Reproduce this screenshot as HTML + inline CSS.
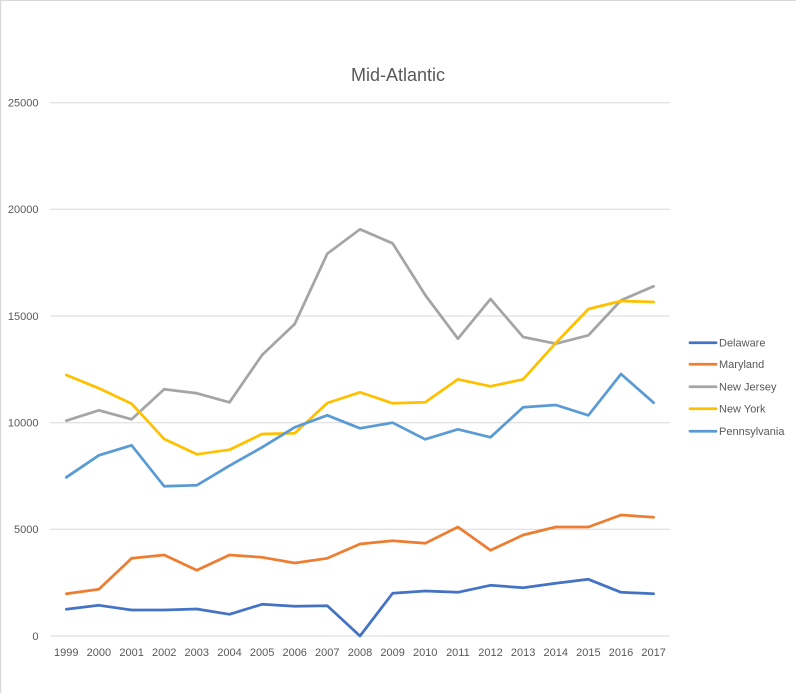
<!DOCTYPE html>
<html>
<head>
<meta charset="utf-8">
<style>
html,body{margin:0;padding:0;background:#fff;}
svg{display:block;}
text{font-family:"Liberation Sans",Arial,sans-serif;fill:#595959;}
</style>
</head>
<body>
<svg width="796" height="693" viewBox="0 0 796 693" xmlns="http://www.w3.org/2000/svg">
<rect x="0" y="0" width="796" height="693" fill="#fff"/>
<line x1="0" y1="0.5" x2="796" y2="0.5" stroke="#d9d9d9" stroke-width="1"/>
<line x1="0.5" y1="0" x2="0.5" y2="693" stroke="#d9d9d9" stroke-width="1.5"/>

<text x="398" y="81" font-size="18" text-anchor="middle">Mid-Atlantic</text>

<g stroke="#d9d9d9" stroke-width="1">
<line x1="50" y1="102.7" x2="670" y2="102.7"/>
<line x1="50" y1="209.3" x2="670" y2="209.3"/>
<line x1="50" y1="316" x2="670" y2="316"/>
<line x1="50" y1="422.7" x2="670" y2="422.7"/>
<line x1="50" y1="529.3" x2="670" y2="529.3"/>
<line x1="50" y1="636" x2="670" y2="636"/>
</g>

<g font-size="11" text-anchor="end">
<text x="38.5" y="106.5">25000</text>
<text x="38.5" y="213">20000</text>
<text x="38.5" y="320">15000</text>
<text x="38.5" y="426.5">10000</text>
<text x="38.5" y="533">5000</text>
<text x="38.5" y="640">0</text>
</g>

<g font-size="11" text-anchor="middle">
<text x="66.3" y="656">1999</text>
<text x="98.9" y="656">2000</text>
<text x="131.6" y="656">2001</text>
<text x="164.2" y="656">2002</text>
<text x="196.8" y="656">2003</text>
<text x="229.5" y="656">2004</text>
<text x="262.1" y="656">2005</text>
<text x="294.7" y="656">2006</text>
<text x="327.3" y="656">2007</text>
<text x="360.0" y="656">2008</text>
<text x="392.6" y="656">2009</text>
<text x="425.2" y="656">2010</text>
<text x="457.9" y="656">2011</text>
<text x="490.5" y="656">2012</text>
<text x="523.1" y="656">2013</text>
<text x="555.8" y="656">2014</text>
<text x="588.4" y="656">2015</text>
<text x="621.0" y="656">2016</text>
<text x="653.6" y="656">2017</text>
</g>

<g fill="none" stroke-width="2.75" stroke-linejoin="round" stroke-linecap="round">
<polyline stroke="#4472C4" points="66.3,609.3 98.9,605.3 131.6,610 164.2,610 196.8,609 229.5,614.3 262.1,604.3 294.7,606.3 327.3,605.7 360.0,636 392.6,593.3 425.2,591 457.9,592.3 490.5,585.3 523.1,587.7 555.8,583.3 588.4,579.3 621.0,592.3 653.6,593.7"/>
<polyline stroke="#ED7D31" points="66.3,593.7 98.9,589.3 131.6,558.3 164.2,555 196.8,570.3 229.5,555 262.1,557.3 294.7,563 327.3,558.3 360.0,544 392.6,540.7 425.2,543.3 457.9,527 490.5,550.3 523.1,535 555.8,527 588.4,527 621.0,515 653.6,517.3"/>
<polyline stroke="#A5A5A5" points="66.3,420.7 98.9,410.3 131.6,419.3 164.2,389.3 196.8,393.3 229.5,402.3 262.1,355 294.7,324 327.3,253.7 360.0,229.3 392.6,243.3 425.2,295 457.9,338.7 490.5,299 523.1,337 555.8,343.7 588.4,335.3 621.0,300.3 653.6,286.3"/>
<polyline stroke="#FFC000" points="66.3,375 98.9,388.3 131.6,403.7 164.2,439 196.8,454.3 229.5,449.7 262.1,434 294.7,433.3 327.3,403 360.0,392.3 392.6,403.3 425.2,402.3 457.9,379.3 490.5,386.3 523.1,379.3 555.8,343 588.4,309 621.0,301 653.6,302"/>
<polyline stroke="#5B9BD5" points="66.3,477.3 98.9,455.3 131.6,445.3 164.2,486.3 196.8,485.3 229.5,465.7 262.1,447.3 294.7,427.3 327.3,415.3 360.0,428.3 392.6,422.7 425.2,439.3 457.9,429.3 490.5,437.3 523.1,407.3 555.8,405 588.4,415.3 621.0,374 653.6,402.7"/>
</g>

<g stroke-width="2.75" stroke-linecap="round">
<line x1="690" y1="342.7" x2="716" y2="342.7" stroke="#4472C4"/>
<line x1="690" y1="364.3" x2="716" y2="364.3" stroke="#ED7D31"/>
<line x1="690" y1="386.7" x2="716" y2="386.7" stroke="#A5A5A5"/>
<line x1="690" y1="408.7" x2="716" y2="408.7" stroke="#FFC000"/>
<line x1="690" y1="431.3" x2="716" y2="431.3" stroke="#5B9BD5"/>
</g>
<g font-size="11">
<text x="719" y="346.5">Delaware</text>
<text x="719" y="368">Maryland</text>
<text x="719" y="390.5">New Jersey</text>
<text x="719" y="412.5">New York</text>
<text x="719" y="435">Pennsylvania</text>
</g>
</svg>
</body>
</html>
